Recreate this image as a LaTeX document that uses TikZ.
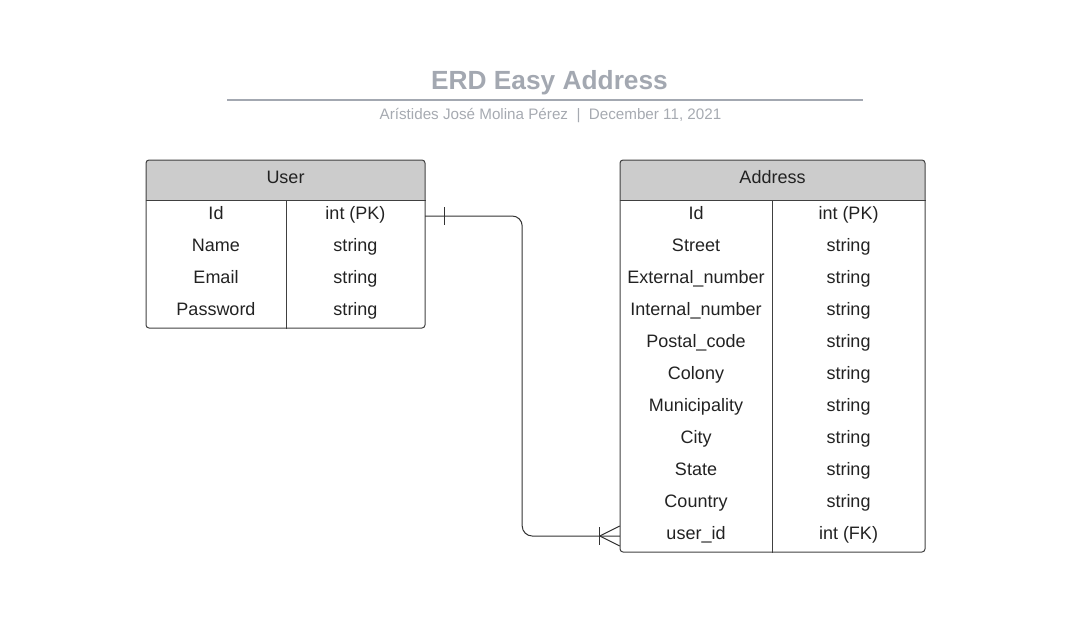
\documentclass[tikz,border=0pt]{standalone}
\usepackage{fontspec}
\setmainfont{Liberation Sans}
\usetikzlibrary{calc}
\definecolor{bordc}{HTML}{404040}
\definecolor{hdrc}{HTML}{CCCCCC}
\definecolor{titc}{HTML}{A3A8B1}
\definecolor{subc}{HTML}{A6AAB1}
\definecolor{txtc}{HTML}{222222}
\definecolor{linkc}{HTML}{333333}
\begin{document}
\begin{tikzpicture}[x=1pt,y=-1pt,
  cell/.style={inner sep=0pt,minimum height=32pt,text height=13pt,text depth=7pt,
               font=\fontsize{18}{21}\selectfont,text=txtc},
  tblbox/.style={draw=bordc,line width=1pt,rounded corners=3pt,inner sep=0pt},
  hdrtext/.style={font=\fontsize{18}{21}\selectfont,text=txtc,text height=13pt,text depth=7pt,inner sep=0pt},
  sep/.style={draw=bordc,line width=1pt},
  link/.style={draw=linkc,line width=1pt},
]
\useasboundingbox (0,0) rectangle (1070,629);

% title
\node[font=\fontsize{26.3}{30}\selectfont\bfseries,text=titc,inner sep=0pt] (title) at (549.5,82.5) {ERD Easy Address};
\coordinate (tl) at (227,100);
\coordinate (tr) at (863,100);
\draw[titc,line width=1.6pt] (tl) -- (tr);
\node[font=\fontsize{15.2}{18}\selectfont,text=subc,inner sep=0pt] (sub) at (550.5,115.5) {Arístides José Molina Pérez~~|~~December 11, 2021};

% ---------- User table ----------
\begin{scope}
\clip[rounded corners=3pt] (146,160) rectangle (425,328);
\fill[hdrc] (146,160) rectangle (425,200);
\end{scope}
\node[tblbox,minimum width=279pt,minimum height=168pt] (user) at (285.5,244) {};
\draw[sep] (user.west |- 0,200) -- (user.east |- 0,200);
\draw[sep] (286,200) -- (user.south -| 286,0);
\node[hdrtext] (userh) at (285.5,180.5) {User};
\foreach \k/\t [count=\i] in {Id/int (PK),Name/string,Email/string,Password/string}{
  \node[cell,minimum width=140pt] (uk\i) at (216,{216+32*(\i-1)}) {\k};
  \node[cell,minimum width=139pt] (ut\i) at (355.5,{216+32*(\i-1)}) {\t};
}

% ---------- Address table ----------
\begin{scope}
\clip[rounded corners=3pt] (620,160) rectangle (925,552);
\fill[hdrc] (620,160) rectangle (925,200);
\end{scope}
\node[tblbox,minimum width=305pt,minimum height=392pt] (addr) at (772.5,356) {};
\draw[sep] (addr.west |- 0,200) -- (addr.east |- 0,200);
\draw[sep] (772,200) -- (addr.south -| 772,0);
\node[hdrtext] (addrh) at (772.5,180.5) {Address};
\foreach \k/\t [count=\i] in {Id/int (PK),Street/string,External\_number/string,
   Internal\_number/string,Postal\_code/string,Colony/string,Municipality/string,
   City/string,State/string,Country/string,user\_id/int (FK)}{
  \node[cell,minimum width=152pt] (ak\i) at (696,{216+32*(\i-1)}) {\k};
  \node[cell,minimum width=153pt] (at\i) at (848.5,{216+32*(\i-1)}) {\t};
}

% ---------- relationship ----------
\draw[link,rounded corners=10pt] (ut1.east) -- ++(97,0) |- (ak11.west);
% one mark at User side
\draw[link] ($(ut1.east)+(19,-9)$) -- ++(0,18);
% crow's foot (many) at Address side
\draw[link] ($(ak11.west)+(-20,-9)$) -- ++(0,18);
\draw[link] ($(ak11.west)+(-20,0)$) -- ($(ak11.west)+(0,-10)$);
\draw[link] ($(ak11.west)+(-20,0)$) -- ($(ak11.west)+(0,10)$);
\end{tikzpicture}
\end{document}
